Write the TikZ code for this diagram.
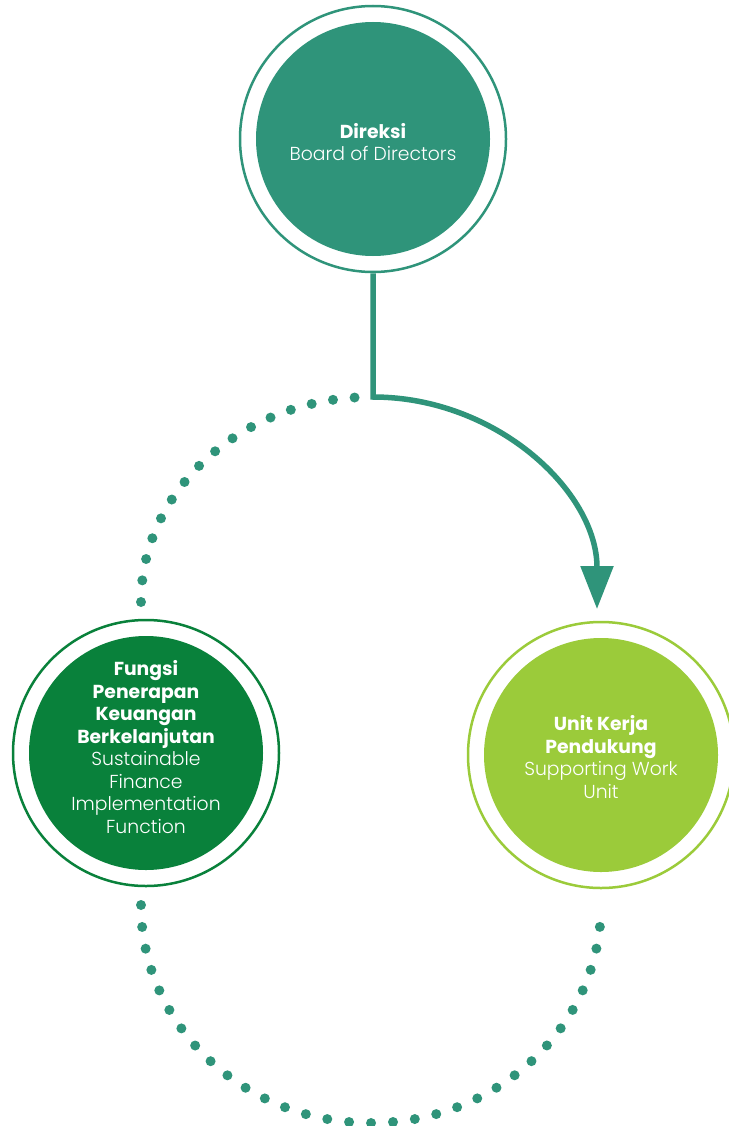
\documentclass[tikz,border=0pt]{standalone}
\usepackage{fontspec}
\setmainfont{Poppins}[UprightFont=* Light, BoldFont=* Bold]
\usetikzlibrary{arrows.meta}
\definecolor{teal}{RGB}{47,148,122}
\definecolor{dkgreen}{RGB}{9,129,59}
\definecolor{lime}{RGB}{155,203,58}
\tikzset{
  ring/.style={circle, draw=#1, fill=white, line width=2.5pt, minimum size=266pt, inner sep=0pt},
  disc/.style={circle, fill=#1, minimum size=234pt, inner sep=0pt},
  txt/.style={text=white, align=center, inner sep=0pt,
    font=\fontsize{18.8pt}{22.5pt}\selectfont},
  dots/.style={draw=teal, line width=10pt, line cap=round, dash pattern=on 0pt off #1},
  arrowline/.style={draw=teal, line width=5.5pt, -{Triangle[length=43pt,width=32pt]}},
}
\begin{document}
\begin{tikzpicture}[x=1pt,y=-1pt]
\useasboundingbox (0,0) rectangle (728,1126);
% dotted guide path
\coordinate (tl) at (141,602);
\coordinate (bl) at (141,905);
\draw[dots=21.7pt] (tl) arc[start angle=180, end angle=266, x radius=230, y radius=205];
\draw[dots=22pt] (bl) arc[start angle=180, end angle=0, x radius=230, y radius=218];
% circles
\node[ring=teal] (dirring) at (373,139) {};
\node[disc=teal] (dir) at (373,139) {};
\node[txt] (dirtxt) at (373,142) {\textbf{Direksi}\\Board of Directors};
\node[ring=dkgreen] (sfring) at (146,753) {};
\node[disc=dkgreen] (sf) at (146,753) {};
\node[txt] (sftxt) at (146,747) {\textbf{Fungsi}\\\textbf{Penerapan}\\\textbf{Keuangan}\\\textbf{Berkelanjutan}\\Sustainable\\Finance\\Implementation\\Function};
\node[ring=lime] (swring) at (601,755) {};
\node[disc=lime] (sw) at (601,755) {};
\node[txt] (swtxt) at (601,757) {\textbf{Unit Kerja}\\\textbf{Pendukung}\\Supporting Work\\Unit};
% arrow
\coordinate (corner) at (373,397);
\draw[arrowline] (dirring.south) -- (corner) arc[start angle=270, end angle=360, x radius=224, y radius=212];
\end{tikzpicture}
\end{document}
